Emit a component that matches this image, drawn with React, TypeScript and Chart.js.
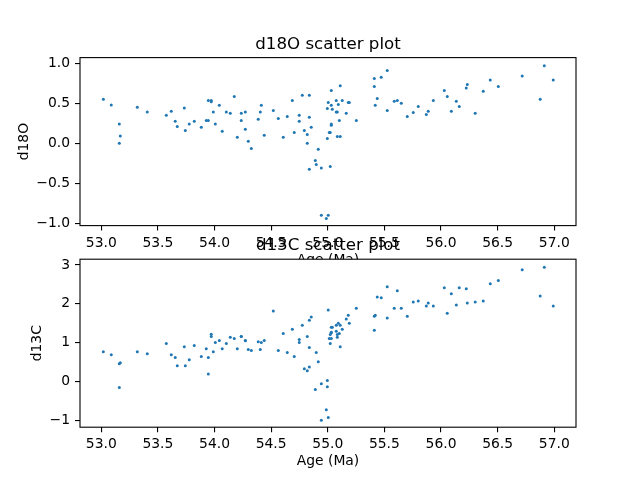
import React, { useEffect, useRef } from "react";
import { Chart, registerables } from "chart.js";

Chart.register(...registerables);

// ---- data ----
const ages = [
  53.018, 53.088, 53.159, 53.159, 53.168, 53.318, 53.406, 53.574, 53.618, 53.653,
  53.671, 53.733, 53.742, 53.777, 53.821, 53.883, 53.927, 53.945, 53.945, 53.971,
  53.971, 53.989, 54.007, 54.042, 54.068, 54.104, 54.139, 54.174, 54.201, 54.236,
  54.236, 54.272, 54.272, 54.298, 54.325, 54.386, 54.404, 54.413, 54.439, 54.519,
  54.563, 54.607, 54.642, 54.687, 54.704, 54.748, 54.748, 54.775, 54.793, 54.819,
  54.819, 54.837, 54.837, 54.837, 54.854, 54.89, 54.898, 54.916, 54.943, 54.943,
  54.987, 54.996, 54.996, 55.004, 55.004, 55.013, 55.022, 55.022, 55.031, 55.031,
  55.031, 55.031, 55.04, 55.075, 55.075, 55.084, 55.084, 55.093, 55.102, 55.11,
  55.11, 55.128, 55.163, 55.181, 55.19, 55.252, 55.411, 55.411, 55.419, 55.437,
  55.472, 55.525, 55.525, 55.587, 55.614, 55.649, 55.702, 55.755, 55.799, 55.87,
  55.887, 55.932, 56.029, 56.055, 56.091, 56.135, 56.161, 56.223, 56.232, 56.302,
  56.373, 56.435, 56.506, 56.717, 56.876, 56.912, 56.991,
];

const d18O = [
  0.55, 0.48, 0.24, 0.0, 0.09, 0.45, 0.39, 0.35, 0.40, 0.275,
  0.21, 0.44, 0.16, 0.24, 0.275, 0.20, 0.285, 0.285, 0.535, 0.535,
  0.52, 0.39, 0.24, 0.475, 0.15, 0.39, 0.375, 0.585, 0.075, 0.375,
  0.285, 0.39, 0.175, 0.025, -0.065, 0.30, 0.39, 0.475, 0.10, 0.41,
  0.31, 0.075, 0.335, 0.535, 0.135, 0.35, 0.275, 0.60, 0.16, 0.11,
  0.0, 0.60, 0.325, -0.325, 0.20, -0.215, -0.265, -0.075, -0.31, -0.90,
  -0.94, 0.435, 0.06, 0.51, -0.90, 0.135, 0.135, -0.29, 0.66, 0.475,
  0.24, 0.225, 0.425, 0.535, 0.39, 0.39, 0.085, 0.485, 0.285, 0.72,
  0.085, 0.535, 0.375, 0.51, 0.51, 0.285, 0.81, 0.71, 0.475, 0.56,
  0.825, 0.91, 0.41, 0.525, 0.535, 0.50, 0.335, 0.385, 0.46, 0.36,
  0.40, 0.535, 0.66, 0.585, 0.40, 0.525, 0.46, 0.69, 0.735, 0.375,
  0.65, 0.79, 0.71, 0.84, 0.55, 0.97, 0.79,
];

const d13C = [
  0.77, 0.695, 0.46, -0.15, 0.49, 0.77, 0.72, 0.98, 0.695, 0.62,
  0.41, 0.90, 0.41, 0.565, 0.93, 0.645, 0.85, 0.62, 0.20, 1.22,
  1.165, 0.77, 1.01, 1.06, 0.85, 0.98, 1.14, 1.11, 0.85, 1.165,
  1.16, 1.06, 1.05, 0.83, 0.80, 1.03, 0.83, 1.01, 1.06, 1.815,
  0.80, 1.24, 0.75, 1.35, 0.645, 1.085, 1.01, 1.45, 0.33, 1.165,
  0.28, 1.58, 0.88, 0.38, 1.66, -0.20, 0.75, 0.515, -0.05, -0.99,
  -0.72, 0.03, -0.13, 1.84, -0.92, 1.11, 1.215, 0.98, 1.40, 1.27,
  1.11, 1.26, 1.40, 1.45, 1.295, 1.215, 1.14, 1.50, 1.24, 1.45,
  0.90, 1.35, 1.61, 1.71, 1.50, 1.89, 1.685, 1.32, 1.71, 2.18,
  2.155, 2.44, 1.635, 1.89, 2.34, 1.89, 1.685, 2.05, 2.075, 1.945,
  2.02, 1.945, 2.415, 1.76, 2.26, 1.97, 2.415, 2.39, 2.02, 2.05,
  2.075, 2.52, 2.60, 2.88, 2.205, 2.94, 1.945,
];

const ageTicks = [53.0, 53.5, 54.0, 54.5, 55.0, 55.5, 56.0, 56.5, 57.0];
const d18OTicks = [-1.0, -0.5, 0.0, 0.5, 1.0];
const d13CTicks = [-1, 0, 1, 2, 3];

const titles = ["d18O scatter plot", "d13C scatter plot"];
const yLabels = ["d18O", "d13C"];
const xLabel = "Age (Ma)";

// ---- styling ----
const FONT = "'DejaVu Sans', 'Liberation Sans', sans-serif";
const BLUE = "#1f77b4";
const X_MIN = 52.812;
const X_MAX = 57.192;

const fmtMinus = (s: string) => s.replace("-", "\u2212");

const areaPlugin = {
  id: "mplFrame",
  beforeDraw(chart: any) {
    const a = chart.chartArea;
    const ctx = chart.ctx;
    ctx.save();
    ctx.fillStyle = "#ffffff";
    ctx.fillRect(a.left, a.top, a.right - a.left, a.bottom - a.top);
    ctx.restore();
  },
  afterDraw(chart: any) {
    const a = chart.chartArea;
    const ctx = chart.ctx;
    ctx.save();
    ctx.strokeStyle = "#000000";
    ctx.lineWidth = 1.1;
    ctx.strokeRect(a.left, a.top, a.right - a.left, a.bottom - a.top);
    ctx.restore();
  },
};

function buildConfig(p: {
  title: string;
  yLabel: string;
  yValues: number[];
  yMin: number;
  yMax: number;
  yTicks: number[];
  yDecimals: number;
  padTop: number;
  padBottom: number;
  yTitlePad: number;
}): any {
  const tickFont = { family: FONT, size: 13.89, lineHeight: 1.2 };
  const grid = {
    display: true,
    drawOnChartArea: false,
    drawTicks: true,
    tickLength: 5,
    tickWidth: 1.1,
    color: "#000000",
    lineWidth: 1.1,
  };
  return {
    type: "scatter",
    data: {
      datasets: [
        {
          data: ages.map((a, i) => ({ x: a, y: p.yValues[i] })),
          backgroundColor: BLUE,
          borderColor: BLUE,
          borderWidth: 0,
          pointRadius: 1.5,
          pointHoverRadius: 1.5,
        },
      ],
    },
    options: {
      animation: false,
      responsive: false,
      devicePixelRatio: 1,
      events: [],
      layout: { padding: { left: 0, right: 64, top: p.padTop, bottom: p.padBottom } },
      plugins: {
        legend: { display: false },
        tooltip: { enabled: false },
        title: {
          display: true,
          text: p.title,
          fullSize: false,
          color: "#000000",
          font: { family: FONT, size: 16.67, weight: "normal", lineHeight: 1.2 },
          padding: { top: 0, bottom: 3.4 },
        },
      },
      scales: {
        x: {
          type: "linear",
          min: X_MIN,
          max: X_MAX,
          bounds: "data",
          afterBuildTicks: (ax: any) => {
            ax.ticks = ageTicks.map((v) => ({ value: v }));
          },
          afterFit: (s: any) => {
            s.height = 42.8;
          },
          ticks: {
            autoSkip: false,
            maxRotation: 0,
            minRotation: 0,
            padding: 4,
            color: "#000000",
            font: tickFont,
            callback: (v: any) => fmtMinus(Number(v).toFixed(1)),
          },
          grid,
          border: { display: false },
          title: {
            display: true,
            text: xLabel,
            color: "#000000",
            font: { family: FONT, size: 13.89, lineHeight: 1.2 },
            padding: { top: 0, bottom: 0 },
          },
        },
        y: {
          type: "linear",
          min: p.yMin,
          max: p.yMax,
          bounds: "data",
          afterBuildTicks: (ax: any) => {
            ax.ticks = p.yTicks.map((v) => ({ value: v }));
          },
          afterFit: (s: any) => {
            s.width = 80;
          },
          ticks: {
            autoSkip: false,
            padding: 5,
            color: "#000000",
            font: tickFont,
            callback: (v: any) => fmtMinus(Number(v).toFixed(p.yDecimals)),
          },
          grid,
          border: { display: false },
          title: {
            display: true,
            text: p.yLabel,
            color: "#000000",
            font: { family: FONT, size: 13.89, lineHeight: 1.2 },
            padding: { top: p.yTitlePad, bottom: 0 },
          },
        },
      },
    },
    plugins: [areaPlugin],
  };
}

const topConfig = () =>
  buildConfig({
    title: titles[0],
    yLabel: yLabels[0],
    yValues: d18O,
    yMin: -1.029,
    yMax: 1.071,
    yTicks: d18OTicks,
    yDecimals: 1,
    padTop: 34.2,
    padBottom: 211.6,
    yTitlePad: 16.2,
  });

const bottomConfig = () =>
  buildConfig({
    title: titles[1],
    yLabel: yLabels[1],
    yValues: d13C,
    yMin: -1.17,
    yMax: 3.149,
    yTicks: d13CTicks,
    yDecimals: 0,
    padTop: 235.8,
    padBottom: 10,
    yTitlePad: 28.6,
  });

function ChartLayer({ make }: { make: () => any }) {
  const ref = useRef<HTMLCanvasElement | null>(null);
  useEffect(() => {
    if (!ref.current) return;
    const chart = new Chart(ref.current, make());
    return () => chart.destroy();
  }, []);
  return (
    <canvas
      ref={ref}
      width={640}
      height={480}
      style={{ position: "absolute", left: 0, top: 0, width: 640, height: 480 }}
    />
  );
}

export default function App() {
  return (
    <div
      style={{
        position: "absolute",
        left: 0,
        top: 0,
        width: 640,
        height: 480,
        background: "#ffffff",
        overflow: "hidden",
      }}
    >
      <ChartLayer make={topConfig} />
      <ChartLayer make={bottomConfig} />
    </div>
  );
}
